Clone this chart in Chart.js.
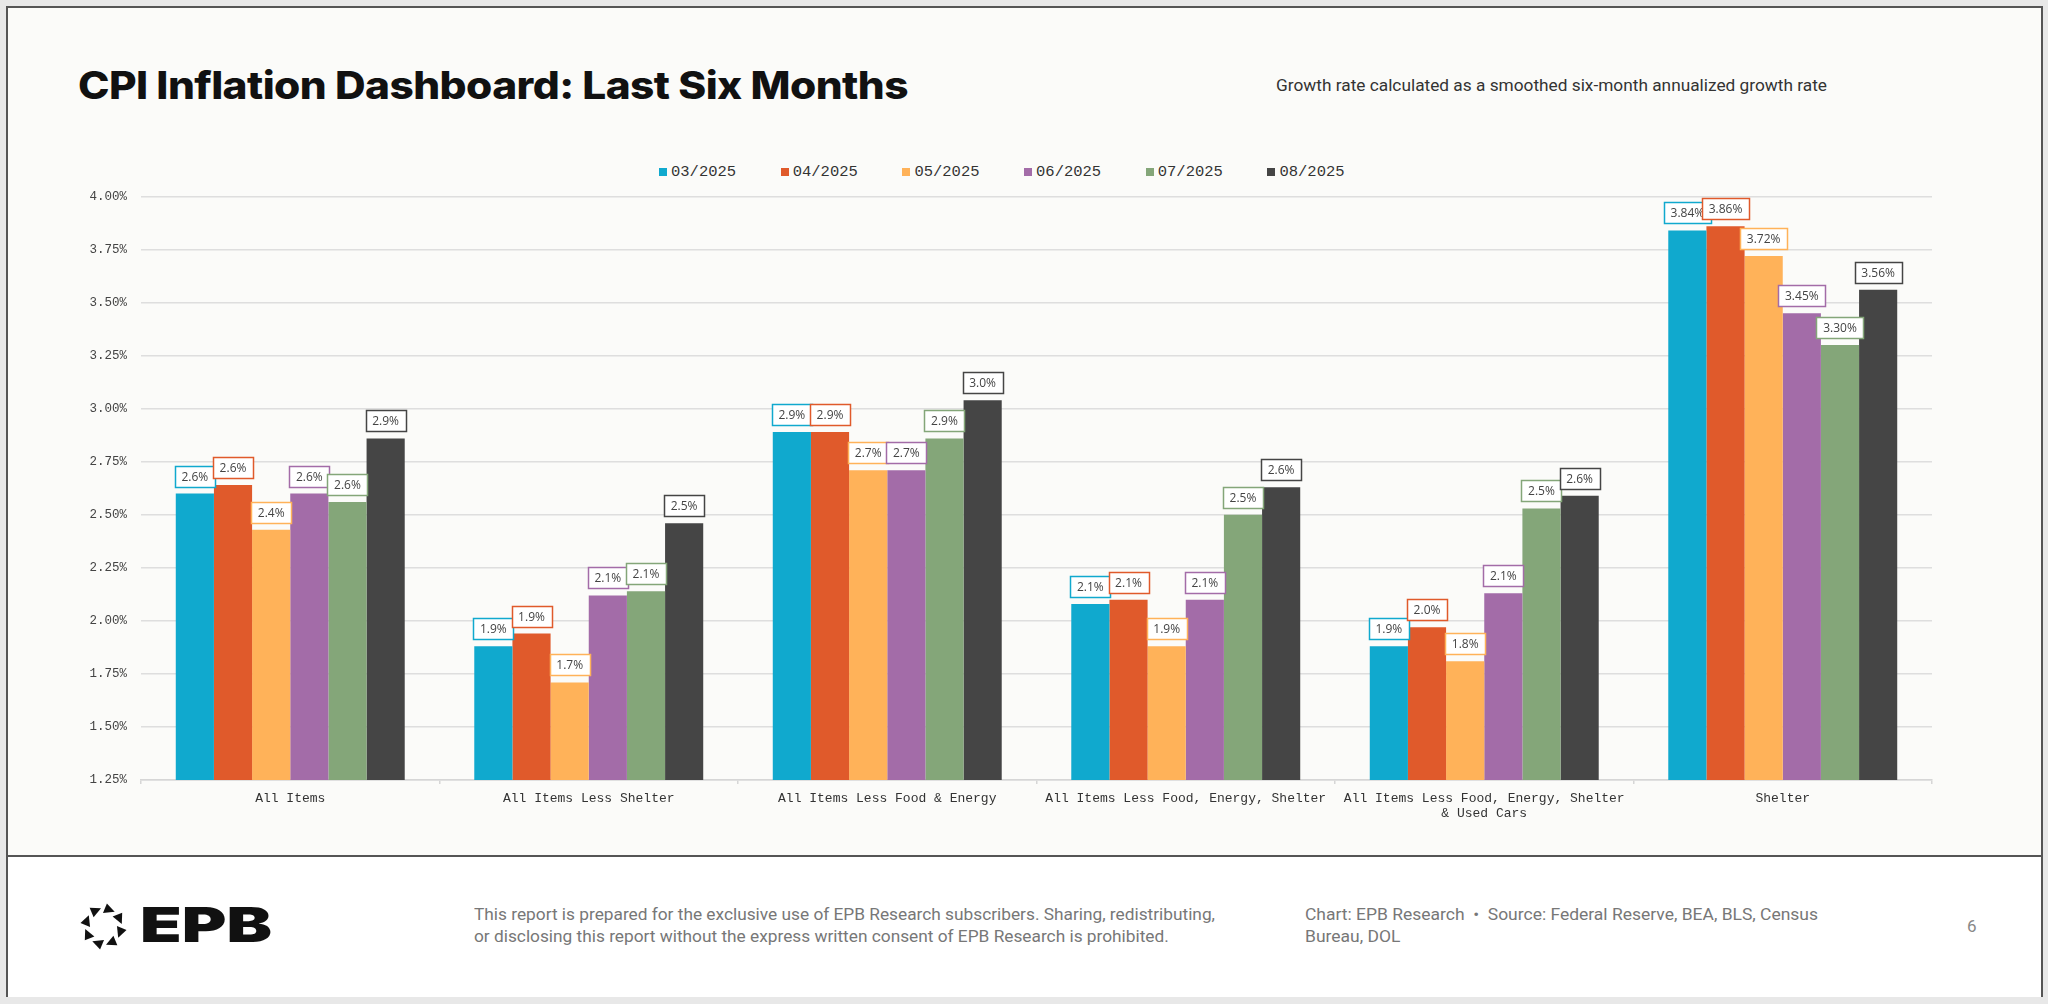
<!DOCTYPE html>
<html>
<head>
<meta charset="utf-8">
<script src="https://cdn.jsdelivr.net/npm/chart.js@4.4.1/dist/chart.umd.min.js"></script>
<style>
  body { margin: 0; width: 2048px; height: 1004px; background: #e8e8e8; position: relative; overflow: hidden; }
  .abs { position: absolute; white-space: nowrap; transform-origin: left center; }
  #card { left: 6px; top: 6px; width: 2037px; height: 991px; border: 2px solid #555; box-sizing: border-box; background: #fbfbf9; }
  #footer { left: 8px; top: 855px; width: 2033px; height: 140px; background: #fff; border-top: 2px solid #555; }
  #title { left: 78px; top: 66px; font: 800 38px/38px Inter, sans-serif; color: #111; letter-spacing: -0.5px; }
  #subtitle { left: 1276px; top: 75px; font: 400 17px/20px Roboto, sans-serif; color: #333; }
  #legend { left: 659px; top: 162px; height: 20px; display: flex; }
  .item { width: 121.7px; display: flex; align-items: center; font: 15.5px/20px "Liberation Mono", monospace; color: #333; }
  .item i { display: inline-block; width: 8px; height: 8px; margin-right: 4px; }
  #chartBox { position: absolute; left: 40px; top: 175px; width: 1920px; height: 665px; }
  #epb { left: 140px; top: 901px; font: 900 48px/48px Inter, sans-serif; color: #111; }
  #note { left: 474px; top: 904px; font: 400 16px/22px Roboto, sans-serif; color: #777; }
  #source { left: 1305px; top: 904px; font: 400 16px/22px Roboto, sans-serif; color: #777; }
  #page { left: 1967px; top: 915px; font: 400 17px/22px Roboto, sans-serif; color: #888; }
</style>
</head>
<body>
<div id="card" class="abs"></div>
<div id="footer" class="abs"></div>
<div id="title" class="abs">CPI Inflation Dashboard: Last Six Months</div>
<div id="subtitle" class="abs">Growth rate calculated as a smoothed six-month annualized growth rate</div>
<div id="legend" class="abs"></div>
<div id="chartBox"><canvas id="cpiChart"></canvas></div>

<svg class="abs" style="left:80px;top:903px" width="47" height="47" viewBox="-25 -25 50 50">
  <g fill="#111">
    <polygon points="-6,-24 -6,-13 5,-19" transform="rotate(22.5)"/>
    <polygon points="-6,-24 -6,-13 5,-19" transform="rotate(67.5)"/>
    <polygon points="-6,-24 -6,-13 5,-19" transform="rotate(112.5)"/>
    <polygon points="-6,-24 -6,-13 5,-19" transform="rotate(157.5)"/>
    <polygon points="-6,-24 -6,-13 5,-19" transform="rotate(202.5)"/>
    <polygon points="-6,-24 -6,-13 5,-19" transform="rotate(247.5)"/>
    <polygon points="-6,-24 -6,-13 5,-19" transform="rotate(292.5)"/>
    <polygon points="-6,-24 -6,-13 5,-19" transform="rotate(337.5)"/>
  </g>
</svg>
<div id="epb" class="abs">EPB</div>
<div id="note" class="abs">This report is prepared for the exclusive use of EPB Research subscribers. Sharing, redistributing,<br>or disclosing this report without the express written consent of EPB Research is prohibited.</div>
<div id="source" class="abs">Chart: EPB Research &nbsp;•&nbsp; Source: Federal Reserve, BEA, BLS, Census<br>Bureau, DOL</div>
<div id="page" class="abs">6</div>

<script>
// categories and series (annualized %)
const categories = [
  'All Items',
  'All Items Less Shelter',
  'All Items Less Food & Energy',
  'All Items Less Food, Energy, Shelter',
  ['All Items Less Food, Energy, Shelter', '& Used Cars'],
  'Shelter'
];
const months = ['03/2025', '04/2025', '05/2025', '06/2025', '07/2025', '08/2025'];
const mar2025 = [2.60, 1.88, 2.89, 2.08, 1.88, 3.84];
const apr2025 = [2.64, 1.94, 2.89, 2.10, 1.97, 3.86];
const may2025 = [2.43, 1.71, 2.71, 1.88, 1.81, 3.72];
const jun2025 = [2.60, 2.12, 2.71, 2.10, 2.13, 3.45];
const jul2025 = [2.56, 2.14, 2.86, 2.50, 2.53, 3.30];
const aug2025 = [2.86, 2.46, 3.04, 2.63, 2.59, 3.56];
const labelDigits = [1, 1, 1, 1, 1, 2];
const yMin = 1.25, yMax = 4.00, yStep = 0.25;

const series = [mar2025, apr2025, may2025, jun2025, jul2025, aug2025];
const colors = ['#10a9ce', '#e05a2b', '#ffb259', '#a36ca8', '#84a679', '#454545'];

// legend in html
const legend = document.getElementById('legend');
months.forEach((m, i) => {
  const d = document.createElement('div');
  d.className = 'item';
  d.innerHTML = '<i style="background:' + colors[i] + '"></i>' + m;
  legend.appendChild(d);
});

// boxed value labels above each bar
const labelBoxes = {
  id: 'labelBoxes',
  afterDatasetsDraw(chart) {
    const ctx = chart.ctx;
    ctx.save();
    ctx.font = '12px "Open Sans"';
    ctx.textAlign = 'center';
    ctx.textBaseline = 'middle';
    chart.data.datasets.forEach((ds, di) => {
      chart.getDatasetMeta(di).data.forEach((bar, i) => {
        const txt = ds.data[i].toFixed(labelDigits[i]) + '%';
        const w = Math.round(ctx.measureText(txt).width + 13);
        const h = 21;
        const x = Math.round(bar.x - w / 2) + 0.5;
        const y = Math.round(bar.y - 7 - h) + 0.5;
        ctx.fillStyle = '#ffffff';
        ctx.fillRect(x, y, w, h);
        ctx.strokeStyle = ds.backgroundColor;
        ctx.lineWidth = 1.5;
        ctx.strokeRect(x, y, w, h);
        ctx.fillStyle = '#444';
        ctx.fillText(txt, bar.x, y + h / 2 + 0.5);
      });
    });
    ctx.restore();
  }
};

function fitWidth(id, target) {
  const el = document.getElementById(id);
  const w = el.getBoundingClientRect().width;
  el.style.transform = 'scaleX(' + (target / w) + ')';
}

document.fonts.ready.then(() => {
  fitWidth('title', 830);
  fitWidth('subtitle', 551);
  fitWidth('epb', 132);
  fitWidth('note', 741);
  fitWidth('source', 513);
});

const ctx = document.getElementById('cpiChart').getContext('2d');
const cpiChart = new Chart(ctx, {
  type: 'bar',
  data: {
    labels: categories,
    datasets: series.map((d, i) => ({
      label: months[i],
      data: d,
      backgroundColor: colors[i],
      borderWidth: 0,
      barPercentage: 1.0,
      categoryPercentage: 0.767
    }))
  },
  options: {
    responsive: true,
    maintainAspectRatio: false,
    animation: false,
    devicePixelRatio: 1,
    layout: { padding: { top: 0, right: 28, bottom: 10, left: 0 } },
    plugins: {
      legend: { display: false },
      tooltip: { enabled: false }
    },
    scales: {
      x: {
        afterFit: (s) => { s.height = 50; },
        grid: { offset: true, drawOnChartArea: false, drawTicks: true, tickLength: 4, color: '#d6d6d6', lineWidth: 1.5 },
        border: { color: '#d6d6d6', width: 1.5 },
        ticks: {
          color: '#333', padding: 7, maxRotation: 0, minRotation: 0, autoSkip: false,
          font: { family: '"Liberation Mono", monospace', size: 13, lineHeight: 1.15 }
        }
      },
      y: {
        min: yMin,
        max: yMax,
        afterFit: (s) => { s.width = 101; },
        grid: { color: '#dedede', lineWidth: 1.5, drawTicks: false },
        border: { display: false },
        ticks: {
          stepSize: yStep, padding: 14, color: '#444',
          font: { family: '"Liberation Mono", monospace', size: 12.5 },
          callback: (v) => v.toFixed(2) + '%'
        }
      }
    }
  },
  plugins: [labelBoxes]
});
</script>
</body>
</html>
